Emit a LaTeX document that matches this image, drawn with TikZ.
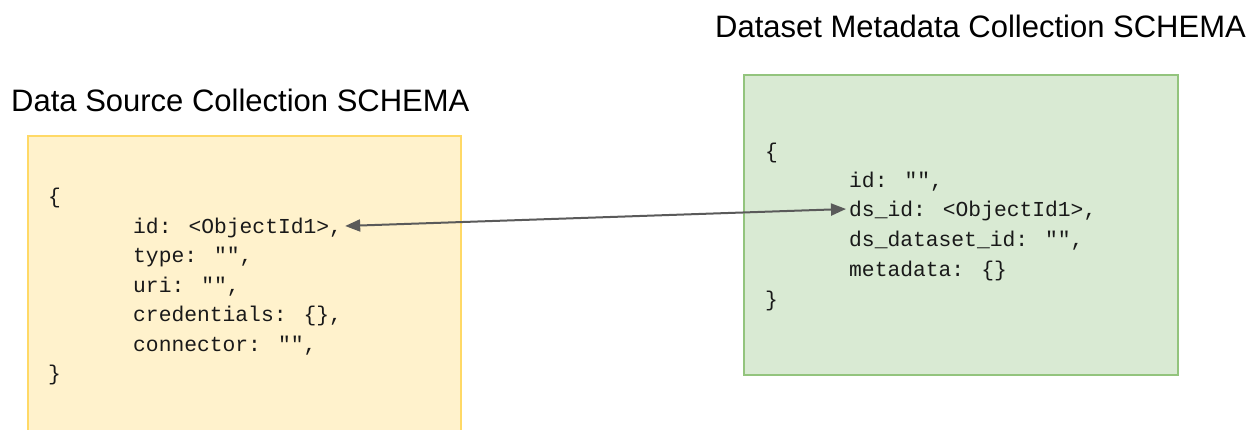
\documentclass[tikz,border=0pt]{standalone}
\usepackage{fontspec}
\setmainfont{Liberation Sans}
\newfontfamily\codefont{Liberation Mono}
\usetikzlibrary{arrows.meta}

\definecolor{srcfill}{HTML}{FFF2CC}
\definecolor{srcline}{HTML}{FFD966}
\definecolor{metafill}{HTML}{D9EAD3}
\definecolor{metaline}{HTML}{93C47D}
\definecolor{linkgray}{HTML}{5A5A5A}

\tikzset{
    title/.style={anchor=base west, inner sep=0pt, font=\fontsize{31}{36}\selectfont},
    code/.style={anchor=base west, inner xsep=3pt, inner ysep=0pt, text height=16pt, text depth=0pt,
                 text=black!90, font=\codefont\fontsize{21.3}{26}\selectfont},
    link/.style={linkgray, line width=2pt, {Triangle[length=15pt,width=12pt]}-{Triangle[length=15pt,width=12pt]}}
}

\begin{document}
\begin{tikzpicture}[x=1pt,y=-1pt]
                \clip (0,0) rectangle (1254,430);
                \fill[white] (0,0) rectangle (1254,430);

                \draw[fill=srcfill,draw=srcline,line width=2pt] (28,136) rectangle (461,450); %data source box
                \draw[fill=metafill,draw=metaline,line width=2pt] (744,75) rectangle (1178,375); %metadata box

                \node[title] (srctitle) at (11,112) {Data Source Collection SCHEMA};
                \node[title] (metatitle) at (715,38) {Dataset Metadata Collection SCHEMA};

                % data source schema
                \node[code] (srcopen) at (45,204) {\{};
                \node[code] (srcid) at (130,234) {id: <ObjectId1>,};
                \node[code] (srctype) at (130,263) {type: "",};
                \node[code] (srcuri) at (130,293) {uri: "",};
                \node[code] (srccred) at (130,322) {credentials: \{\},};
                \node[code] (srcconn) at (130,352) {connector: "",};
                \node[code] (srcclose) at (45,381) {\}};

                % dataset metadata schema
                \node[code] (metaopen) at (762,159) {\{};
                \node[code] (metaid) at (846,188) {id: "",};
                \node[code] (dsid) at (846,217) {ds\_id: <ObjectId1>,};
                \node[code] (dsdataset) at (846,247) {ds\_dataset\_id: "",};
                \node[code] (metadata) at (846,277) {metadata: \{\}};
                \node[code] (metaclose) at (762,307) {\}};

                \draw[link] (srcid.east) -- (dsid.west);
\end{tikzpicture}
\end{document}
